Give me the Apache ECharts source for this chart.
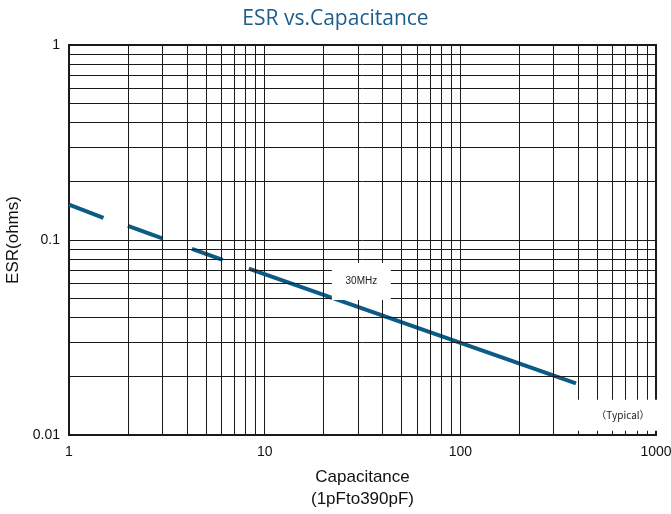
<!DOCTYPE html>
<html>
<head>
<meta charset="utf-8">
<script src="https://cdn.jsdelivr.net/npm/echarts@6/dist/echarts.min.js"></script>
<style>
html,body{margin:0;padding:0;background:#fff;}
#chart{width:671px;height:514px;}
</style>
</head>
<body>
<div id="chart"></div>
<script>
// Capacitance (pF) and ESR (ohms), per drawn segment
const dash1Cap = [1, 1.5];
const dash1Esr = [0.152, 0.130];
const dash2Cap = [2, 3];
const dash2Esr = [0.118, 0.102];
const dash3Cap = [4.25, 6.1];
const dash3Esr = [0.090, 0.079];
const solidCap = [8.3, 390];
const solidEsr = [0.0713, 0.0184];

const xTicks = [1, 10, 100, 1000];
const yTicks = [0.01, 0.1, 1];
const freqLabel = '30MHz';
const noteLabel = '（Typical）';

function pairs(xs, ys) { return xs.map((x, i) => [x, ys[i]]); }

// minor grid positions (2..9 per decade)
const xMinor = [];
for (let d = 1; d < 1000; d *= 10) for (let m = 2; m <= 9; m++) xMinor.push(+(m * d).toPrecision(3));
const yMinor = [];
for (let d = 0.01; d < 0.99; d *= 10) for (let m = 2; m <= 9; m++) yMinor.push(+(m * d).toPrecision(3));

const lineColor = '#0c5a86';
const gridColor = '#1a1a1a';

const segStyle = { color: lineColor, width: 4, cap: 'butt' };
function seg(xs, ys) {
  return {
    type: 'line', data: pairs(xs, ys), showSymbol: false, symbol: 'none', z: 4,
    lineStyle: segStyle, itemStyle: { color: lineColor }, silent: true, animation: false
  };
}

const chart = echarts.init(document.getElementById('chart'), null, { renderer: 'canvas' });
chart.setOption({
  animation: false,
  backgroundColor: '#fff',
  title: {
    text: 'ESR vs.Capacitance', left: 'center', top: 4,
    textStyle: { color: '#1b5d8d', fontSize: 21, fontWeight: 'normal', fontFamily: 'Open Sans' }
  },
  grid: { left: 69, right: 15, top: 45, bottom: 79, show: true, borderColor: gridColor, borderWidth: 2,
    containLabel: false, outerBoundsMode: 'none' },
  xAxis: {
    type: 'log', logBase: 10, min: 1, max: 1000,
    name: 'Capacitance\n(1pFto390pF)', nameLocation: 'middle', nameGap: 31,
    nameTextStyle: { fontSize: 17, color: '#111', fontFamily: 'Liberation Sans', lineHeight: 22 },
    axisLine: { lineStyle: { color: gridColor, width: 2 } },
    axisTick: { show: false },
    axisLabel: { fontSize: 14, color: '#111', margin: 10, fontFamily: 'Liberation Sans',
      formatter: v => String(v) },
    splitLine: { show: true, lineStyle: { color: gridColor, width: 1 } }
  },
  yAxis: {
    type: 'log', logBase: 10, min: 0.01, max: 1,
    name: 'ESR(ohms)', nameLocation: 'middle', nameGap: 37,
    nameTextStyle: { fontSize: 17, color: '#111', fontFamily: 'Liberation Sans' },
    axisLine: { lineStyle: { color: gridColor, width: 2 } },
    axisTick: { show: false },
    axisLabel: { fontSize: 14, color: '#111', margin: 9, fontFamily: 'Liberation Sans',
      formatter: v => String(+v.toPrecision(2)) },
    splitLine: { show: true, lineStyle: { color: gridColor, width: 1 } }
  },
  series: [
    {
      type: 'line', data: [], z: 1, silent: true,
      markLine: {
        silent: true, symbol: 'none', animation: false,
        label: { show: false },
        lineStyle: { color: gridColor, width: 1, type: 'solid' },
        data: xMinor.map(v => ({ xAxis: v })).concat(yMinor.map(v => ({ yAxis: v })))
      }
    },
    {
      type: 'line', data: [], z: 2, silent: true,
      markPoint: {
        silent: true, animation: false,
        symbol: 'rect', itemStyle: { color: '#fff' },
        label: { show: true, position: 'inside', color: '#222', fontFamily: 'Liberation Sans' },
        data: [
          { coord: [31.2, 0.0613], symbolSize: [59, 37], label: { formatter: freqLabel, fontSize: 10 } },
          { coord: [678, 0.01262], symbolSize: [96, 31], label: { formatter: noteLabel, fontSize: 10, fontFamily: 'Noto Sans CJK JP' } }
        ]
      }
    },
    seg(dash1Cap, dash1Esr),
    seg(dash2Cap, dash2Esr),
    seg(dash3Cap, dash3Esr),
    seg(solidCap, solidEsr)
  ]
});
</script>
</body>
</html>
